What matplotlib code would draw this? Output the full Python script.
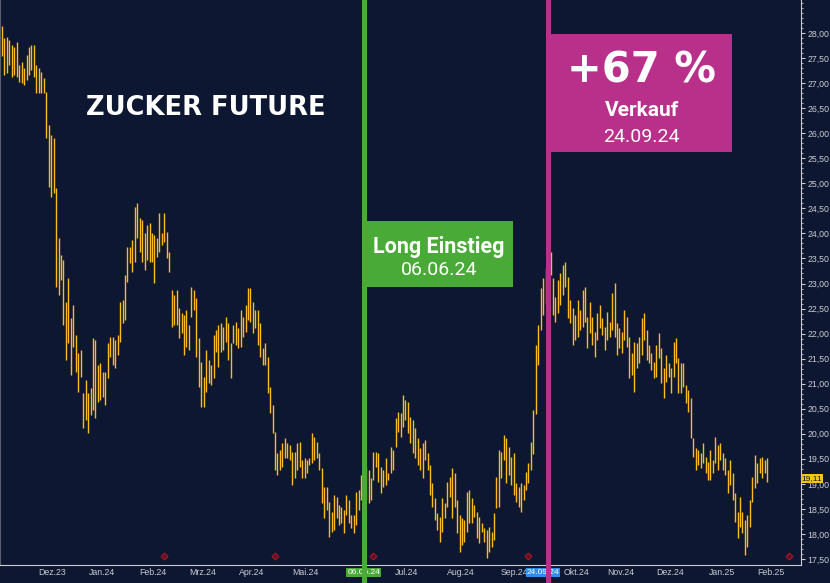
import numpy as np
import pandas as pd
import matplotlib.pyplot as plt
from matplotlib.patches import Rectangle
import matplotlib.transforms as mtransforms

# ============================
# 1. Data (daily high / low)
# ============================
highs = [
    28.15, 27.90, 27.92, 27.86, 27.76, 27.72, 27.82, 27.36, 27.42, 27.30,
    27.56, 27.72, 27.76, 27.76, 27.36, 27.30, 27.22, 27.10, 26.82, 26.16,
    25.96, 25.90, 24.90, 23.91, 23.57, 23.47, 22.63, 23.11, 22.31, 22.57,
    21.97, 21.61, 21.67, 20.81, 21.07, 20.81, 20.91, 21.91, 21.87, 21.37,
    21.41, 21.23, 21.23, 21.81, 21.93, 21.93, 21.87, 21.97, 22.63, 22.67,
    23.17, 23.73, 23.73, 23.87, 24.53, 24.61, 24.31, 24.27, 24.01, 24.17,
    24.21, 24.01, 23.97, 23.91, 24.41, 24.01, 24.41, 24.03, 23.63, 22.87,
    22.77, 22.87, 22.51, 22.41, 22.37, 22.47, 22.17, 22.93, 22.87, 22.71,
    21.91, 21.43, 21.13, 21.67, 21.47, 21.37, 21.97, 22.07, 22.17, 22.21,
    22.13, 22.33, 22.21, 21.81, 22.17, 22.23, 22.11, 22.47, 22.33, 22.57,
    22.91, 22.91, 22.63, 22.47, 22.47, 22.21, 21.71, 21.81, 21.53, 20.93,
    20.57, 20.04, 19.62, 19.68, 19.82, 19.92, 19.82, 19.78, 19.64, 19.64,
    19.82, 19.84, 19.48, 19.52, 19.48, 19.52, 20.02, 19.94, 19.84, 19.62,
    19.32, 18.94, 18.94, 18.64, 18.44, 18.78, 18.74, 18.58, 18.54, 18.48,
    18.78, 18.68, 18.38, 18.38, 18.84, 18.88, 19.18, 19.30, 19.34, 19.28,
    19.12, 19.64, 19.64, 19.62, 19.34, 19.28, 19.52, 19.22, 19.74, 19.68,
    20.32, 20.44, 20.42, 20.78, 20.68, 20.64, 20.34, 20.28, 20.12, 19.92,
    19.72, 19.82, 19.88, 19.62, 19.38, 19.02, 18.72, 18.42, 18.34, 18.72,
    18.62, 19.04, 19.14, 19.32, 19.22, 18.68, 18.38, 18.32, 18.28, 18.84,
    18.88, 18.72, 18.58, 18.44, 18.34, 18.22, 18.12, 18.08, 18.14, 18.04,
    18.42, 19.14, 19.68, 19.64, 19.98, 19.92, 19.74, 19.54, 19.62, 19.02,
    18.94, 19.02, 18.98, 19.24, 19.42, 19.84, 20.48, 21.77, 22.17, 22.91,
    23.11, 23.30, 23.50, 23.63, 23.11, 22.73, 23.07, 23.21, 23.37, 23.43,
    23.13, 22.67, 22.51, 22.37, 22.67, 22.47, 22.87, 22.93, 22.33, 22.63,
    22.33, 22.03, 22.41, 22.57, 22.31, 22.13, 22.43, 22.23, 22.81, 23.01,
    22.21, 22.11, 22.03, 22.47, 22.33, 21.93, 21.61, 21.83, 21.81, 21.93,
    22.31, 22.41, 22.07, 21.77, 21.61, 21.43, 21.77, 22.01, 21.71, 21.31,
    21.57, 21.41, 21.31, 21.83, 21.91, 21.51, 21.41, 21.41, 20.97, 20.87,
    20.71, 19.92, 19.72, 19.68, 19.62, 19.82, 19.54, 19.44, 19.68, 19.48,
    19.94, 19.78, 19.82, 19.62, 19.52, 19.28, 19.48, 19.22, 18.82, 18.44,
    18.74, 18.44, 18.28, 18.38, 18.68, 19.14, 19.58, 19.42, 19.52, 19.54,
    19.48, 19.52,
]
lows = [
    27.55, 27.16, 27.20, 27.36, 27.12, 27.16, 27.12, 27.02, 27.00, 26.96,
    27.06, 27.16, 27.26, 27.12, 26.80, 26.80, 26.80, 26.80, 25.90, 24.93,
    24.73, 24.80, 22.93, 22.77, 23.07, 22.17, 21.47, 21.81, 21.17, 21.73,
    21.23, 20.83, 21.13, 20.11, 20.27, 20.02, 20.37, 20.47, 20.31, 20.63,
    20.67, 20.73, 20.57, 21.11, 21.53, 21.37, 21.31, 21.57, 21.83, 22.21,
    22.27, 23.03, 23.41, 23.23, 23.43, 23.91, 23.63, 23.43, 23.27, 23.47,
    23.43, 23.43, 23.01, 23.53, 23.63, 23.77, 23.83, 23.51, 23.23, 22.13,
    22.17, 22.17, 21.91, 22.01, 21.57, 21.73, 21.67, 22.33, 22.47, 21.53,
    20.93, 20.53, 20.53, 20.83, 21.01, 20.97, 21.11, 21.63, 21.33, 21.63,
    21.67, 21.83, 21.47, 21.11, 21.81, 21.77, 21.71, 21.73, 21.93, 22.03,
    22.27, 22.23, 22.01, 22.11, 21.77, 21.53, 21.37, 21.37, 20.81, 20.41,
    20.02, 19.28, 19.18, 19.28, 19.34, 19.52, 19.52, 19.48, 18.98, 19.12,
    19.28, 19.34, 19.12, 19.12, 19.22, 19.38, 19.42, 19.48, 19.52, 19.28,
    18.62, 18.32, 18.48, 17.94, 18.04, 18.08, 18.32, 18.18, 18.22, 18.02,
    18.38, 18.22, 18.12, 18.02, 18.18, 18.48, 18.68, 18.70, 18.68, 18.62,
    18.68, 19.08, 19.34, 19.04, 18.82, 18.94, 18.98, 19.08, 19.22, 19.28,
    19.74, 20.04, 19.94, 20.14, 20.28, 20.02, 19.82, 19.62, 19.52, 19.38,
    19.28, 19.12, 19.48, 19.28, 18.78, 18.54, 18.28, 18.08, 17.84, 18.04,
    18.32, 18.54, 18.74, 18.32, 18.54, 18.02, 17.64, 17.78, 17.84, 18.04,
    18.22, 18.22, 18.34, 17.92, 17.82, 18.04, 17.84, 17.52, 17.64, 17.74,
    17.88, 18.52, 18.54, 19.12, 19.48, 19.02, 19.18, 18.98, 18.78, 18.64,
    18.54, 18.44, 18.68, 18.88, 19.02, 19.28, 19.60, 20.40, 21.37, 22.07,
    22.37, 22.60, 22.80, 23.17, 22.37, 22.23, 22.41, 22.57, 22.77, 22.93,
    22.31, 22.21, 21.77, 21.87, 21.93, 22.07, 22.13, 22.23, 21.71, 22.01,
    21.77, 21.53, 21.87, 22.11, 21.97, 21.67, 21.87, 21.93, 22.07, 21.93,
    21.57, 21.71, 21.61, 21.87, 21.73, 21.11, 21.17, 20.83, 21.31, 21.41,
    21.57, 21.87, 21.47, 21.41, 21.27, 21.11, 21.13, 21.51, 21.01, 20.71,
    21.03, 21.13, 20.81, 21.13, 21.41, 20.81, 20.81, 20.93, 20.61, 20.43,
    19.92, 19.54, 19.28, 19.38, 19.32, 19.42, 19.22, 19.08, 19.08, 19.22,
    19.42, 19.28, 19.48, 19.28, 19.18, 18.82, 18.98, 18.68, 18.24, 17.92,
    18.14, 18.02, 17.58, 17.74, 18.14, 18.64, 18.92, 19.02, 19.22, 19.12,
    19.22, 19.04,
]
last_price = 19.11

holidays = ['2023-11-23', '2023-12-25', '2024-01-01', '2024-01-15', '2024-02-19',
            '2024-03-29', '2024-05-27', '2024-06-19', '2024-07-04', '2024-09-02',
            '2024-11-28', '2024-12-25', '2025-01-01', '2025-01-09', '2025-01-20']
month_names = ['Jan', 'Feb', 'Mrz', 'Apr', 'Mai', 'Jun', 'Jul', 'Aug', 'Sep', 'Okt', 'Nov', 'Dez']
entry_date = '2024-06-06'
exit_date = '2024-09-24'
expiry_dates = ['2024-02-09', '2024-04-16', '2024-06-12', '2024-09-12', '2025-02-14']

# ============================
# 2. Dates / positions
# ============================
all_dates = pd.bdate_range('2023-11-03', '2025-02-28', freq='C', holidays=holidays)
n = len(highs)
idx = np.arange(n)

def date_pos(d):
    return int(all_dates.searchsorted(pd.Timestamp(d)))

entry_x = date_pos(entry_date)
exit_x = date_pos(exit_date)

BG = '#0e1731'
BAR = '#fdbb1e'
GREEN = '#4aaa38'
MAGENTA = '#b8308a'
AXC = '#c9ccd4'
NARROW = ['Liberation Sans', 'DejaVu Sans']
ROBOTO = ['Roboto', 'DejaVu Sans']

# ============================
# 3. Plot
# ============================
fig = plt.figure(figsize=(8.3, 5.83), dpi=100, facecolor=BG)
ax = fig.add_axes([0, 18 / 583, 801 / 830, 565 / 583], facecolor=BG)

ax.vlines(idx, lows, highs, color=BAR, linewidth=1.0)

ax.set_xlim(-0.8, 324.8)
ax.set_ylim(17.38, 28.66)

# right price axis
ax.yaxis.tick_right()
ax.set_yticks(np.arange(17.5, 28.01, 0.5))
ax.set_yticks(np.arange(17.5, 28.61, 0.1), minor=True)
ax.set_yticklabels([f"{v:.2f}".replace('.', ',') for v in np.arange(17.5, 28.01, 0.5)],
                   fontsize=6.3, color=AXC, family=NARROW)
ax.tick_params(axis='y', which='major', length=3, width=0.8, color=AXC, pad=1.5)
ax.tick_params(axis='y', which='minor', length=1.5, width=0.6, color=AXC)

# month labels (drawn as text so single labels can be nudged)
ax.set_xticks([])
trans = mtransforms.blended_transform_factory(ax.transData, ax.transAxes)
for (yr, mo), grp in pd.Series(np.arange(len(all_dates)), index=all_dates).groupby(
        [all_dates.year, all_dates.month]):
    if (yr, mo) in [(2023, 11), (2024, 6)] or (yr, mo) > (2025, 2):
        continue
    pos = grp.iloc[0] + 1.5
    if (yr, mo) == (2024, 10):
        pos += 5  # sits right after the sell-date badge
    ax.text(pos, -0.0135, f"{month_names[mo - 1]}.{str(yr)[2:]}", transform=trans,
            ha='center', va='center', fontsize=6.3, color=AXC, family=NARROW)

ax.spines['top'].set_visible(False)
ax.spines['left'].set_color('#5a5f6e')
ax.spines['left'].set_linewidth(0.8)
ax.spines['right'].set_color(AXC)
ax.spines['right'].set_linewidth(0.8)
ax.spines['bottom'].set_color(AXC)
ax.spines['bottom'].set_linewidth(0.8)

# expiry markers
ax.plot([date_pos(d) for d in expiry_dates], [17.56] * len(expiry_dates), 'D',
        ms=3.5, mfc='#6a0d1a', mec='#a0192c', mew=0.8, clip_on=False)

# highlighted date labels on the x axis
ax.text(entry_x, -0.0135, "06.06.24", transform=trans, ha='center', va='center',
        fontsize=6, color='white', family=NARROW,
        bbox=dict(boxstyle='square,pad=0.12', fc=GREEN, ec='none'))
ax.text(exit_x - 2, -0.0135, "24.09.24", transform=trans, ha='center', va='center',
        fontsize=6, color='white', family=NARROW,
        bbox=dict(boxstyle='square,pad=0.08', fc='#2f8ee8', ec='none'))

# entry / exit lines
ax.axvline(entry_x, ymin=-0.04, ymax=1, color=GREEN, lw=3.6, clip_on=False, zorder=5)
ax.axvline(exit_x, ymin=-0.04, ymax=1, color=MAGENTA, lw=3.6, clip_on=False, zorder=5)

# last price label
transy = mtransforms.blended_transform_factory(ax.transAxes, ax.transData)
ax.text(1.001, last_price, "19,11", transform=transy, ha='left', va='center',
        fontsize=6, color='#1a1a1a', family=NARROW,
        bbox=dict(boxstyle='square,pad=0.12', fc='#f5c518', ec='none'))

# entry box
ax.add_patch(Rectangle((entry_x + 0.6, 22.93), 60.0, 1.32, fc=GREEN, ec='none', zorder=6))
ax.text(entry_x + 30.5, 23.73, "Long Einstieg", ha='center', va='center',
        fontsize=15.5, fontweight='bold', color='white', family=ROBOTO, zorder=7)
ax.text(entry_x + 30.5, 23.27, "06.06.24", ha='center', va='center',
        fontsize=14, color='white', family=ROBOTO, zorder=7)

# exit box
ax.add_patch(Rectangle((exit_x + 0.8, 25.62), 74.0, 2.36, fc=MAGENTA, ec='none', zorder=6))
ax.text(exit_x + 38, 27.26, "+67 %", ha='center', va='center',
        fontsize=30, fontweight='bold', color='white', family='DejaVu Sans', zorder=7)
ax.text(exit_x + 38, 26.46, "Verkauf", ha='center', va='center',
        fontsize=15, fontweight='bold', color='white', family=ROBOTO, zorder=7)
ax.text(exit_x + 38, 25.92, "24.09.24", ha='center', va='center',
        fontsize=14, color='white', family=ROBOTO, zorder=7)

# title
ax.text(83, 26.50, "ZUCKER FUTURE", ha='center', va='center',
        fontsize=18.5, fontweight='bold', color='white', family='DejaVu Sans')

fig.savefig('out.png', dpi=100, facecolor=BG)
